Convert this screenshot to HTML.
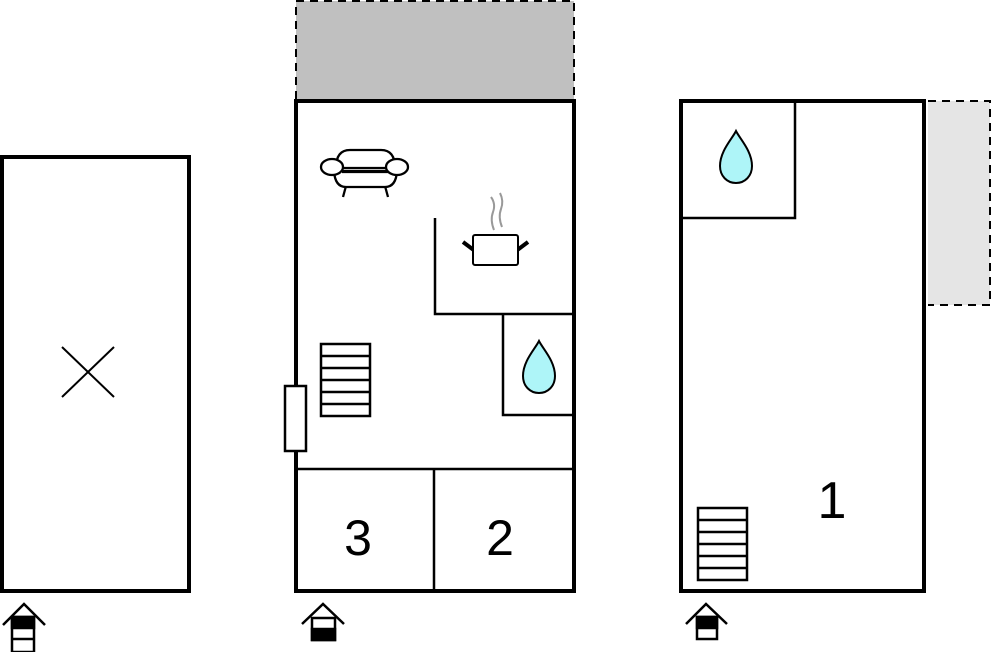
<!DOCTYPE html>
<html><head><meta charset="utf-8"><style>html,body{margin:0;padding:0;background:#fff}svg{display:block}</style></head>
<body>
<svg width="993" height="652" viewBox="0 0 993 652" xmlns="http://www.w3.org/2000/svg" font-family="Liberation Sans, sans-serif">
<defs>
<g id="drop"><path d="M0,0 C4,8 16,20 16,35 C16,45 9,52 0,52 C-9,52 -16,45 -16,35 C-16,20 -4,8 0,0 Z" fill="#aef5f8" stroke="#000" stroke-width="2"/></g>
<g id="stairs" fill="#fff" stroke="#000" stroke-width="2.5"><rect x="0" y="0" width="49" height="72"/><line x1="0" y1="12" x2="49" y2="12"/><line x1="0" y1="24" x2="49" y2="24"/><line x1="0" y1="36" x2="49" y2="36"/><line x1="0" y1="48" x2="49" y2="48"/><line x1="0" y1="60" x2="49" y2="60"/></g>
</defs>
<!-- left -->
<rect x="2" y="157" width="187" height="434" fill="#fff" stroke="#000" stroke-width="4"/>
<line x1="62" y1="347" x2="114" y2="397" stroke="#000" stroke-width="2"/>
<line x1="114" y1="347" x2="62" y2="397" stroke="#000" stroke-width="2"/>
<!-- middle -->
<rect x="296" y="1" width="278" height="100" fill="#c0c0c0" stroke="#000" stroke-width="2" stroke-dasharray="8,6"/>
<rect x="296" y="101" width="278" height="490" fill="#fff" stroke="#000" stroke-width="4"/>
<g stroke="#000" stroke-width="2.5" fill="none">
<line x1="296" y1="469" x2="574" y2="469"/>
<line x1="434" y1="469" x2="434" y2="591"/>
<polyline points="435,218 435,314 574,314"/>
<polyline points="503,314 503,415 574,415"/>
</g>
<text x="358" y="555" font-size="50" text-anchor="middle">3</text>
<text x="500" y="555" font-size="50" text-anchor="middle">2</text>
<use href="#drop" x="539" y="341"/>
<use href="#stairs" x="321" y="344"/>
<rect x="285" y="386" width="21" height="65" fill="#fff" stroke="#000" stroke-width="2.5"/>
<!-- sofa -->
<g stroke="#000" stroke-width="2.3" fill="#fff">
<line x1="346" y1="186" x2="343" y2="197"/><line x1="385" y1="186" x2="388" y2="197"/>
<path d="M334,171 Q335,187 346,187 L385,187 Q396,187 397,171 Z"/>
<path d="M336,168 Q336,150 350,150 L381,150 Q395,150 395,168 Z"/>
<line x1="342" y1="172" x2="389" y2="172"/>
<ellipse cx="332" cy="167" rx="11" ry="8"/>
<ellipse cx="397" cy="167" rx="11" ry="8"/>
</g>
<!-- pot -->
<g stroke="#000">
<line x1="463" y1="242" x2="475" y2="251" stroke-width="4"/>
<line x1="516" y1="251" x2="528" y2="242" stroke-width="4"/>
<rect x="473" y="235" width="45" height="30" rx="2" fill="#fff" stroke-width="2"/>
<path d="M494,230 Q490,220 493,212 Q496,204 491,197 M502,227 Q498,217 501,209 Q504,201 500,193" fill="none" stroke="#999" stroke-width="2"/>
</g>
<!-- right -->
<rect x="928" y="101" width="62" height="204" fill="#e5e5e5"/>
<polyline points="928,101 990,101 990,305 928,305" fill="none" stroke="#000" stroke-width="2" stroke-dasharray="8,6"/>
<rect x="681" y="101" width="243" height="490" fill="#fff" stroke="#000" stroke-width="4"/>
<polyline points="681,218 795,218 795,101" fill="none" stroke="#000" stroke-width="2.5"/>
<use href="#drop" x="736" y="131"/>
<use href="#stairs" x="698" y="508"/>
<text x="832" y="518" font-size="52" text-anchor="middle">1</text>
<!-- floor icons -->
<g stroke="#000" stroke-width="2.5" fill="none">
<polyline points="3,625 24,604 45,625"/>
<rect x="12" y="617" width="22" height="35" fill="#fff"/>
<rect x="12" y="617" width="22" height="11" fill="#000"/>
<line x1="12" y1="639" x2="34" y2="639"/>
<polyline points="302,624 323,604 344,624"/>
<rect x="312" y="618" width="23" height="22" fill="#fff"/>
<rect x="312" y="629" width="23" height="11" fill="#000"/>
<polyline points="686,624 706,604 727,624"/>
<rect x="697" y="617" width="20" height="22" fill="#fff"/>
<rect x="697" y="617" width="20" height="11" fill="#000"/>
</g>
</svg>
</body></html>
